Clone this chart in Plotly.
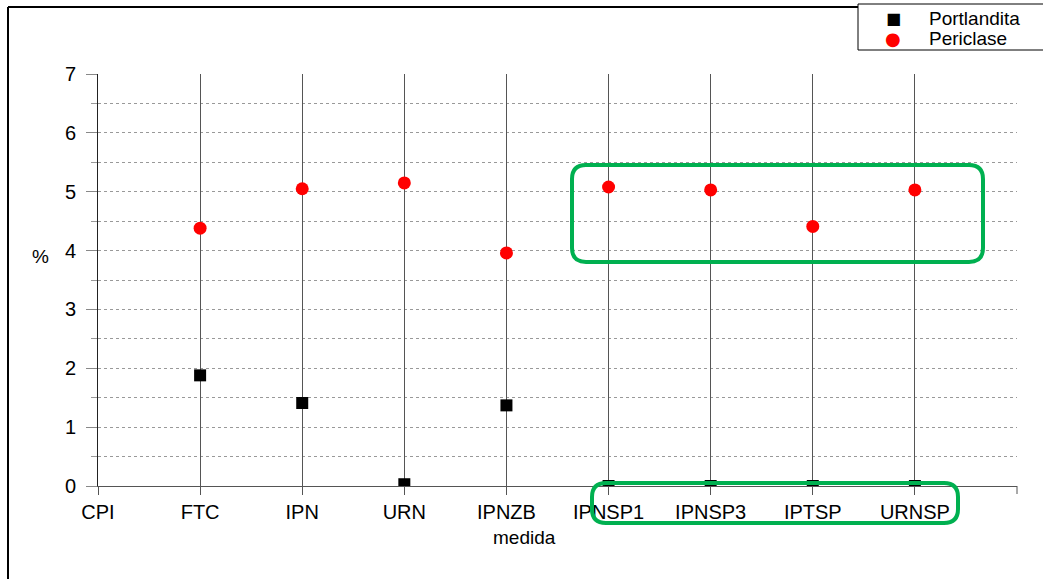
import plotly.graph_objects as go

categories = ["CPI", "FTC", "IPN", "URN", "IPNZB", "IPNSP1", "IPNSP3", "IPTSP", "URNSP"]
portlandita = [None, 1.88, 1.41, 0.03, 1.37, 0.0, 0.0, 0.0, 0.0]
periclase = [None, 4.38, 5.05, 5.15, 3.96, 5.08, 5.03, 4.41, 5.03]
y_ticks = [0, 1, 2, 3, 4, 5, 6, 7]
series_names = ["Portlandita", "Periclase"]
series_colors = ["black", "#ff0000"]
series_glyphs = ["\u25A0", "\u25CF"]

W, H = 1043, 579
L, R, T, B = 98, 26, 74, 93
PW, PH = W - L - R, H - T - B

def px2paper(x, y):
    return (x - L) / PW, (H - B - y) / PH

def rounded_rect(x0, y0, x1, y1, r):
    def P(x, y):
        a, b = px2paper(x, y)
        return f"{a:.5f},{b:.5f}"
    return (f"M {P(x0 + r, y0)} L {P(x1 - r, y0)} Q {P(x1, y0)} {P(x1, y0 + r)} "
            f"L {P(x1, y1 - r)} Q {P(x1, y1)} {P(x1 - r, y1)} "
            f"L {P(x0 + r, y1)} Q {P(x0, y1)} {P(x0, y1 - r)} "
            f"L {P(x0, y0 + r)} Q {P(x0, y0)} {P(x0 + r, y0)} Z")

x_idx = list(range(len(categories)))

fig = go.Figure()
fig.add_trace(go.Scatter(x=x_idx, y=portlandita, mode="markers", name=series_names[0],
                         marker=dict(symbol="square", size=12, color=series_colors[0]),
                         cliponaxis=True, showlegend=False))
fig.add_trace(go.Scatter(x=x_idx, y=periclase, mode="markers", name=series_names[1],
                         marker=dict(symbol="circle", size=13, color=series_colors[1]),
                         cliponaxis=True, showlegend=False))

font = "Liberation Sans, Arial, sans-serif"

shapes = []
for (a, b, c, d) in [(572, 165, 983, 262), (592, 483, 958, 523)]:
    shapes.append(dict(type="path", xref="paper", yref="paper",
                       path=rounded_rect(a, b, c, d, 14),
                       line=dict(color="#00b050", width=4), layer="above"))
_, ey1 = px2paper(1017, 494)
shapes.append(dict(type="line", xref="paper", yref="paper", x0=1, x1=1, y0=0, y1=ey1,
                   line=dict(color="#555555", width=1)))
fx, fy0 = px2paper(8, 579)
_, fy1 = px2paper(8, 7)
fx1, _ = px2paper(1043, 7)
shapes.append(dict(type="line", xref="paper", yref="paper", x0=fx, x1=fx, y0=fy0, y1=fy1,
                   line=dict(color="black", width=2)))
shapes.append(dict(type="line", xref="paper", yref="paper", x0=fx, x1=fx1, y0=fy1, y1=fy1,
                   line=dict(color="black", width=2)))
# legend box
lbx0, lby0 = px2paper(858, 4)
lbx1, lby1 = px2paper(1060, 50)
shapes.append(dict(type="rect", xref="paper", yref="paper", x0=lbx0, x1=lbx1, y0=lby1, y1=lby0,
                   line=dict(color="black", width=1), fillcolor="white", layer="above"))

ax_pc, ay_pc = px2paper(40, 256)
mx, my = px2paper(524, 537)

annotations = [
    dict(text="%", x=ax_pc, y=ay_pc, xref="paper", yref="paper", showarrow=False,
         xanchor="center", yanchor="middle", font=dict(size=19)),
    dict(text="medida", x=mx, y=my, xref="paper", yref="paper", showarrow=False,
         xanchor="center", yanchor="middle", font=dict(size=19)),
]
glyph_sizes = [16, 18]
for i, (nm, col, gl) in enumerate(zip(series_names, series_colors, series_glyphs)):
    rowy = 18 + 21 * i
    gx, gy = px2paper(893, rowy)
    tx, ty = px2paper(927, rowy)
    annotations.append(dict(text=gl, x=gx, y=gy, xref="paper", yref="paper", showarrow=False,
                            xanchor="center", yanchor="middle",
                            font=dict(family="DejaVu Sans", size=glyph_sizes[i], color=col)))
    annotations.append(dict(text=nm, x=tx, y=ty, xref="paper", yref="paper", showarrow=False,
                            xanchor="left", yanchor="middle",
                            font=dict(size=19, color="black")))

fig.update_layout(
    width=W, height=H,
    margin=dict(l=L, r=R, t=T, b=B, autoexpand=False),
    paper_bgcolor="white", plot_bgcolor="white",
    font=dict(family=font, size=20, color="black"),
    showlegend=False,
    xaxis=dict(range=[0, 9], tickmode="array", tickvals=x_idx, ticktext=categories,
               showgrid=True, gridcolor="#555555", gridwidth=1,
               showline=True, linecolor="#555555", linewidth=1,
               ticks="outside", ticklen=8, tickcolor="#555555",
               zeroline=False, tickfont=dict(size=20)),
    yaxis=dict(range=[0, 7], tickmode="array", tickvals=y_ticks,
               showgrid=False, showline=True, linecolor="#222222", linewidth=1,
               ticks="outside", ticklen=11, tickcolor="#888888",
               zeroline=False, tickfont=dict(size=20), ticklabelstandoff=6,
               minor=dict(tickvals=[0.5, 1, 1.5, 2, 2.5, 3, 3.5, 4, 4.5, 5, 5.5, 6, 6.5],
                          showgrid=True, gridcolor="#999999", gridwidth=1, griddash="dot",
                          ticks="outside", ticklen=6, tickcolor="#999999")),
    shapes=shapes,
    annotations=annotations,
)

fig.write_html("out.html")
